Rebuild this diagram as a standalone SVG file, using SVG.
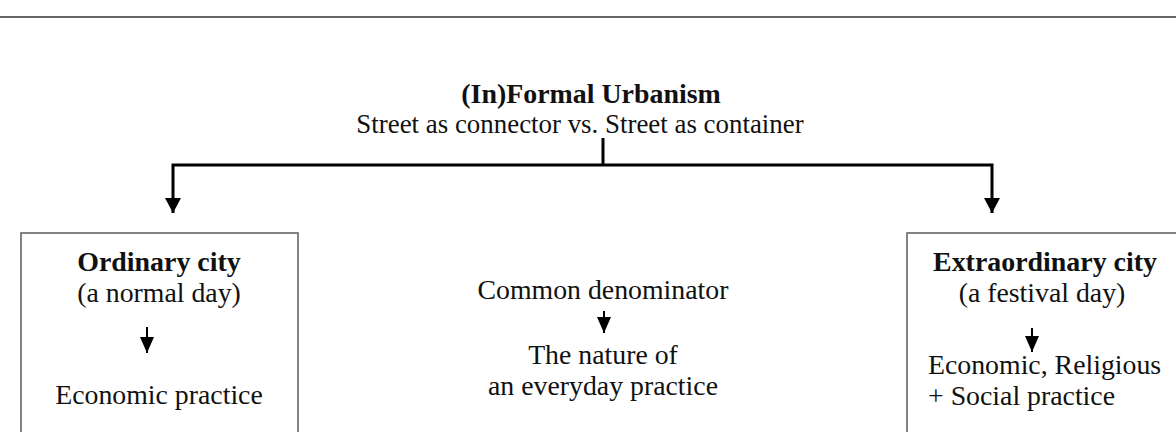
<svg xmlns="http://www.w3.org/2000/svg" width="1176" height="432" viewBox="0 0 1176 432">
<style>
text{font-family:"Liberation Serif","Times New Roman",serif;font-size:27.8px;fill:#111;}
.b{font-weight:bold;font-size:27.9px;}
.sub{font-size:26.9px;}
.c{text-anchor:middle;}
.box{fill:none;stroke:#666;stroke-width:1.6;}
.ln{fill:none;stroke:#000;stroke-width:3;}
.sm{fill:none;stroke:#000;stroke-width:2;}
</style>
<defs>
<marker id="ah" viewBox="0 0 15 16" refX="15" refY="8" markerWidth="15" markerHeight="16" markerUnits="userSpaceOnUse" orient="auto-start-reverse">
<path d="M0,0 L15,8 L0,16 Z" fill="#000"/>
</marker>
<marker id="ahs" viewBox="0 0 16 14" refX="16" refY="7" markerWidth="16" markerHeight="14" markerUnits="userSpaceOnUse" orient="auto-start-reverse">
<path d="M0,0 L16,7 L0,14 Z" fill="#000"/>
</marker>
</defs>
<line x1="0" y1="17" x2="1176" y2="17" stroke="#666" stroke-width="2"/>
<g id="title">
<text class="b c" x="591" y="103">(In)Formal Urbanism</text>
<text class="c sub" x="580" y="133">Street as connector vs. Street as container</text>
</g>
<g id="connectors">
<path class="ln" d="M603,138 V165"/>
<path class="ln" d="M173,213 V165 H992 V213" marker-start="url(#ah)" marker-end="url(#ah)"/>
</g>
<g id="ordinary">
<rect class="box" x="21" y="233" width="277" height="220"/>
<text class="b c" x="159" y="271">Ordinary city</text>
<text class="c" x="159" y="302">(a normal day)</text>
<path class="sm" d="M147,327 V353" marker-end="url(#ahs)"/>
<text class="c" x="159" y="404">Economic practice</text>
</g>
<g id="common">
<text class="c" x="603" y="299">Common denominator</text>
<path class="sm" d="M604,311 V333" marker-end="url(#ahs)"/>
<text class="c" x="603" y="364">The nature of</text>
<text class="c" x="603" y="395">an everyday practice</text>
</g>
<g id="extraordinary">
<rect class="box" x="907" y="233" width="290" height="220"/>
<text class="b c" x="1045" y="271">Extraordinary city</text>
<text class="c" x="1042" y="302">(a festival day)</text>
<path class="sm" d="M1032,328 V352" marker-end="url(#ahs)"/>
<text x="928" y="374">Economic, Religious</text>
<text x="928" y="405">+ Social practice</text>
</g>
</svg>
